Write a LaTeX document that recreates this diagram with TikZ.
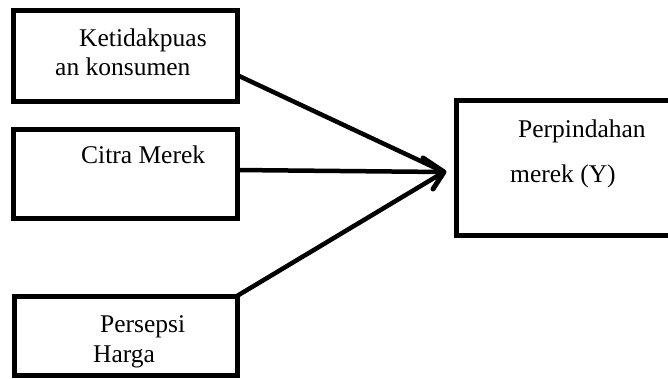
\documentclass[tikz,border=0pt]{standalone}
\usepackage{fontspec}
\setmainfont{Liberation Serif}
\begin{document}
\begin{tikzpicture}[x=1pt,y=-1pt,
  boxstyle/.style={draw=black,line width=5pt,fill=none},
  lbl/.style={anchor=base west,inner sep=0pt,font=\fontsize{25.5}{30}\selectfont},
  conn/.style={line width=4.5pt,draw=black},
  headstyle/.style={line width=5pt,draw=black,line cap=round,line join=round}]
\useasboundingbox (0,0) rectangle (668,378);
\fill[white] (0,0) rectangle (668,378);
% boxes
\draw[boxstyle] (13,10) rectangle (237,101);
\draw[boxstyle] (13,129) rectangle (237,218);
\draw[boxstyle] (14,296) rectangle (237,375);
\draw[boxstyle] (456,100) rectangle (674,235);
\coordinate (b1) at (237,75);
\coordinate (b2) at (237,170);
\coordinate (b3) at (237,296);
\coordinate (tip) at (444,172);
\coordinate (armA) at (423,158);
\coordinate (armB) at (433,189);
% labels
\node[lbl] (t1) at (79,46) {Ketidakpuas};
\node[lbl] (t1b) at (55,75) {an konsumen};
\node[lbl] (t2) at (81,163) {Citra Merek};
\node[lbl] (t3) at (100,332) {Persepsi};
\node[lbl] (t3b) at (93,362) {Harga};
\node[lbl] (ty) at (518,137) {Perpindahan};
\node[lbl] (tyb) at (510,182) {merek (Y)};
% connectors
\draw[conn] (b1) -- (tip);
\draw[conn] (b3) -- (tip);
\draw[conn] (b2) -- (tip);
\draw[headstyle] (armA) -- (tip) -- (armB);
\end{tikzpicture}
\end{document}
